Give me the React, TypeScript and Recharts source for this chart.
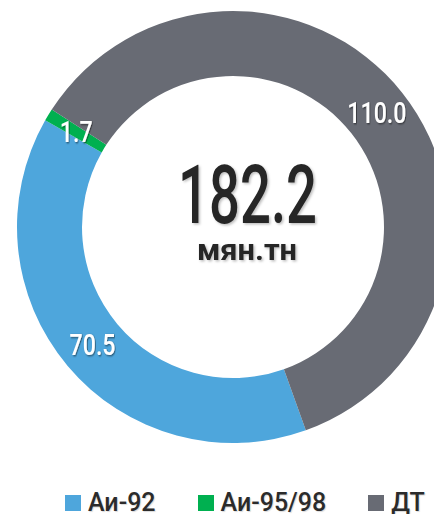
import React from 'react';
import { PieChart, Pie, Cell, Legend, Label } from 'recharts';

const categories = ['Аи-92', 'Аи-95/98', 'ДТ'];
const values = [70.5, 1.7, 110.0];
const colors = ['#4EA6DC', '#00B050', '#686B74'];
const totalLabel = '182.2';
const unitLabel = 'мян.тн';

const data = categories.map((name, i) => ({ name, value: values[i] }));

const CX = 233;
const CY = 227;
const RAD = Math.PI / 180;

const renderSliceLabel = (p: any) => {
  const r = (p.innerRadius + p.outerRadius) / 2;
  const x = p.cx + r * Math.cos(-p.midAngle * RAD);
  const y = p.cy + r * Math.sin(-p.midAngle * RAD);
  const fs = 29;
  return (
    <text
      x={0}
      y={0}
      transform={`translate(${x},${y + fs * 0.355}) scale(0.8,1)`}
      textAnchor="middle"
      fill="#ffffff"
      fontFamily="Roboto, sans-serif"
      fontWeight={500}
      fontSize={fs}
      filter="url(#lblShadow)"
    >
      {Number(p.value).toFixed(1)}
    </text>
  );
};

const renderCenter = (props: any) => {
  const vb = props.viewBox || {};
  const cx = vb.cx ?? CX;
  const cy = vb.cy ?? CY;
  return (
    <g filter="url(#ctrShadow)">
      <text
        x={cx + 14.5}
        y={cy - 4}
        textAnchor="middle"
        fill="#262626"
        fontFamily="Roboto, sans-serif"
        fontWeight={500}
        fontSize={82}
        textLength={139}
        lengthAdjust="spacingAndGlyphs"
      >
        {totalLabel}
      </text>
      <text
        x={cx + 14}
        y={cy + 33}
        textAnchor="middle"
        fill="#262626"
        fontFamily="Roboto, sans-serif"
        fontWeight={700}
        fontSize={30}
        textLength={100}
        lengthAdjust="spacingAndGlyphs"
      >
        {unitLabel}
      </text>
    </g>
  );
};

const renderLegend = () => (
  <div
    style={{
      display: 'flex',
      alignItems: 'center',
      paddingLeft: 65,
      fontFamily: 'Roboto, sans-serif',
      fontSize: 25,
      fontWeight: 500,
      lineHeight: '22px',
      height: 22,
      color: '#2b2b2b',
      whiteSpace: 'nowrap',
    }}
  >
    {categories.map((c, i) => (
      <div key={c} style={{ display: 'flex', alignItems: 'center', marginRight: 42 }}>
        <span style={{ width: 16, height: 16, background: colors[i], display: 'inline-block', marginRight: 7 }} />
        <span style={{ textShadow: '1px 1px 1px rgba(0,0,0,0.15)' }}>{c}</span>
      </div>
    ))}
  </div>
);

export default function App() {
  return (
    <div style={{ position: 'absolute', left: 0, top: 0, width: 434, height: 514, background: '#fff' }}>
      <PieChart width={434} height={514} margin={{ top: 0, right: 0, bottom: 0, left: 0 }}>
        <defs>
          <filter id="lblShadow" x="-20%" y="-20%" width="140%" height="140%">
            <feDropShadow dx="1" dy="1" stdDeviation="0.8" floodColor="#000" floodOpacity="0.55" />
          </filter>
          <filter id="ctrShadow" x="-20%" y="-20%" width="140%" height="140%">
            <feDropShadow dx="1.5" dy="1.5" stdDeviation="1" floodColor="#000" floodOpacity="0.25" />
          </filter>
        </defs>
        <Pie
          data={data}
          dataKey="value"
          nameKey="name"
          cx={CX}
          cy={CY}
          innerRadius={151}
          outerRadius={216}
          startAngle={-70.3}
          endAngle={-430.3}
          stroke="none"
          label={renderSliceLabel}
          labelLine={false}
          isAnimationActive={false}
        >
          {data.map((d, i) => (
            <Cell key={d.name} fill={colors[i]} />
          ))}
          <Label position="center" content={renderCenter} />
        </Pie>
        <Legend
          content={renderLegend}
          wrapperStyle={{ position: 'absolute', left: 0, top: 492, width: 434, height: 22 }}
        />
      </PieChart>
    </div>
  );
}
